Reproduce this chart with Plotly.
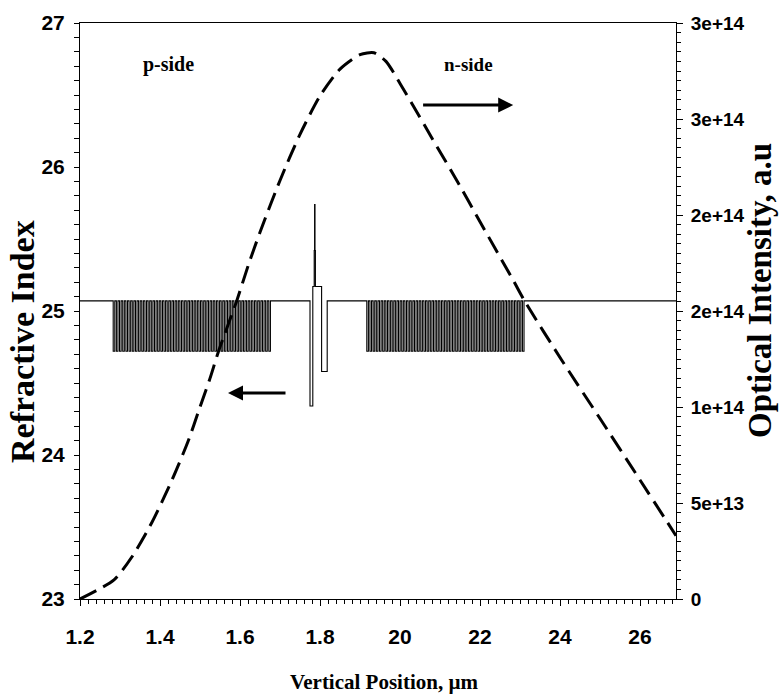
import plotly.graph_objects as go

# ---- refractive index layer stack -------------------------------------
x_min, x_max = 1.2, 2.69          # vertical position range, µm
clad_index = 2.507                # waveguide / spacer index
sl_low_index = 2.472              # low-index layer of the superlattice claddings
p_sl_start = 1.283                # p-side superlattice start, µm
n_sl_start = 1.917                # n-side superlattice start, µm
sl_periods = 50
sl_half = 0.00397                 # half period of the superlattice, µm

# active region: position where the index changes -> new index
active_x = [1.775, 1.782, 1.7855, 1.7865, 1.7875, 1.7885, 1.804, 1.818]
active_n = [2.434, 2.517, 2.542, 2.574, 2.542, 2.517, 2.458, 2.507]

# ---- optical intensity of the guided mode -----------------------------
intensity_x = [1.200, 1.285, 1.330, 1.380, 1.430, 1.470, 1.500, 1.525, 1.546,
               1.592, 1.621, 1.650, 1.700, 1.750, 1.800, 1.850, 1.900, 1.935,
               1.965, 2.000, 2.030, 2.080, 2.142, 2.200, 2.283, 2.311, 2.404,
               2.500, 2.600, 2.690]
intensity_val = [0.000, 0.100, 0.220, 0.400, 0.620, 0.820, 1.000, 1.149, 1.288,
                 1.554, 1.740, 1.910, 2.180, 2.420, 2.620, 2.760, 2.835, 2.845,
                 2.800, 2.685, 2.580, 2.400, 2.180, 1.965, 1.660, 1.554, 1.245,
                 0.940, 0.620, 0.330]  # x 1e14

# ---- axis ticks --------------------------------------------------------
x_tickvals = [1.2, 1.4, 1.6, 1.8, 2.0, 2.2, 2.4, 2.6]
x_ticktext = ["1.2", "1.4", "1.6", "1.8", "20", "22", "24", "26"]
n_tickvals = [2.3, 2.4, 2.5, 2.6, 2.7]
n_ticktext = ["23", "24", "25", "26", "27"]
i_tickvals = [0, 0.5e14, 1.0e14, 1.5e14, 2.0e14, 2.5e14, 3.0e14]
i_ticktext = ["0", "5e+13", "1e+14", "2e+14", "2e+14", "3e+14", "3e+14"]


def index_profile():
    xs, ns = [x_min], [clad_index]

    def change(x, n):
        xs.extend([x, x])
        ns.extend([ns[-1], n])

    def superlattice(start):
        for k in range(sl_periods):
            x0 = start + 2 * k * sl_half
            change(x0, sl_low_index)
            change(x0 + sl_half, clad_index)

    superlattice(p_sl_start)
    for x, n in zip(active_x, active_n):
        change(x, n)
    superlattice(n_sl_start)
    xs.append(x_max)
    ns.append(ns[-1])
    return xs, ns


def minor_positions(lo, hi, step):
    count = int(round((hi - lo) / step))
    return [lo + i * step for i in range(count + 1)]


def bold(labels):
    return ["<b>%s</b>" % t for t in labels]


def labelled_ticks(lo, hi, step, major_vals, major_text):
    """Every tick position, with text only on the labelled ones."""
    vals = minor_positions(lo, hi, step)
    text = []
    for v in vals:
        match = [t for mv, t in zip(major_vals, major_text) if abs(mv - v) < step / 10]
        text.append("<b>%s</b>" % match[0] if match else "")
    return vals, text


prof_x, prof_n = index_profile()
n_vals, n_text = labelled_ticks(2.3, 2.7, 0.01, n_tickvals, n_ticktext)

fig = go.Figure()
fig.add_trace(go.Scatter(
    x=prof_x, y=prof_n, mode="lines",
    line=dict(color="black", width=1.1),
    hoverinfo="skip", showlegend=False))
fig.add_trace(go.Scatter(
    x=intensity_x, y=[v * 1e14 for v in intensity_val], mode="lines",
    line=dict(color="black", width=3, dash="18px,8px", shape="spline", smoothing=0.7),
    yaxis="y2", hoverinfo="skip", showlegend=False))

sans = "Liberation Sans, Arial, sans-serif"
serif = "Liberation Serif, Times New Roman, serif"

axis_common = dict(
    showgrid=False, zeroline=False, showline=True, linecolor="black", linewidth=1,
    ticks="outside", ticklen=6, tickwidth=1, tickcolor="black", tickmode="array")


def minor(lo, hi, step):
    return dict(tickmode="array", tickvals=minor_positions(lo, hi, step),
                ticks="outside", ticklen=4, tickwidth=1, tickcolor="black")


fig.update_layout(
    width=779, height=699,
    margin=dict(l=80, r=103, t=23, b=100),
    paper_bgcolor="white", plot_bgcolor="white",
    xaxis=dict(range=[x_min, x_max], tickvals=x_tickvals, ticktext=bold(x_ticktext),
               mirror=True, ticklabelstandoff=13, minor=minor(1.2, 2.68, 0.02),
               tickfont=dict(family=sans, size=21, color="black"), **axis_common),
    yaxis=dict(range=[2.3, 2.7], tickvals=n_vals, ticktext=n_text,
               ticklabelstandoff=5,
               tickfont=dict(family=sans, size=21, color="black"),
               **{**axis_common, "ticklen": 5}),
    yaxis2=dict(range=[0, 3e14], tickvals=i_tickvals, ticktext=bold(i_ticktext),
                overlaying="y", side="right", ticklabelstandoff=4,
                minor=minor(0, 3e14, 5e12),
                tickfont=dict(family=sans, size=19, color="black"), **axis_common),
)

annotations = [
    # axis titles
    dict(text="<b>Vertical Position, µm</b>", xref="paper", yref="paper",
         x=(384 - 80) / 596, y=(599 - 682) / 576, xanchor="center", yanchor="middle",
         showarrow=False, font=dict(family=serif, size=21, color="black")),
    dict(text="<b>Refractive Index</b>", xref="paper", yref="paper", textangle=-90,
         x=(22 - 80) / 596, y=(599 - 342) / 576, xanchor="center", yanchor="middle",
         showarrow=False, font=dict(family=serif, size=34, color="black")),
    dict(text="<b>Optical Intensity, a.u</b>", xref="paper", yref="paper", textangle=-90,
         x=(760 - 80) / 596, y=(599 - 291) / 576, xanchor="center", yanchor="middle",
         showarrow=False, font=dict(family=serif, size=33, color="black")),
    # side labels
    dict(text="<b>p-side</b>", x=1.421, y=2.6715, xref="x", yref="y", showarrow=False,
         font=dict(family=serif, size=20, color="black")),
    dict(text="<b>n-side</b>", x=2.171, y=2.6715, xref="x", yref="y", showarrow=False,
         font=dict(family=serif, size=19, color="black")),
    # arrows pointing to the axis each curve belongs to
    dict(text="", x=1.570, y=2.443, ax=1.7175, ay=2.443, xref="x", yref="y",
         axref="x", ayref="y", showarrow=True, arrowhead=2, arrowsize=1,
         arrowwidth=3, arrowcolor="black"),
    dict(text="", x=2.283, y=2.643, ax=2.054, ay=2.643, xref="x", yref="y",
         axref="x", ayref="y", showarrow=True, arrowhead=2, arrowsize=1,
         arrowwidth=3, arrowcolor="black"),
]
fig.update_layout(annotations=annotations)

fig.write_html("out.html")
